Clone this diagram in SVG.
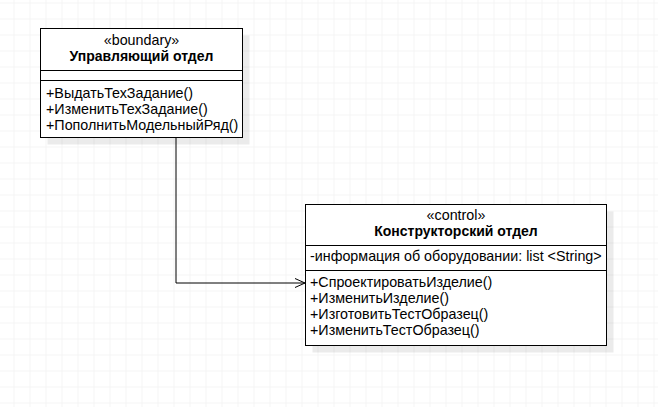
<svg xmlns="http://www.w3.org/2000/svg" width="658" height="407" viewBox="0 0 658 407">
<style>
.box{fill:#fff;stroke:#000;stroke-width:1}
.shadow{fill:#000;opacity:0.08}
.sep{stroke:#000;stroke-width:1;fill:none}
text{font-family:"Liberation Sans",Arial,sans-serif;font-size:14.3px;fill:#000}
.c{text-anchor:middle}
.b{font-weight:bold;font-size:14px}
.conn{fill:none;stroke:#000;stroke-width:1}
</style>
<defs>
<pattern id="grid" x="13.5" y="2.5" width="16" height="16" patternUnits="userSpaceOnUse">
<path d="M0 0H16M0 0V16" fill="none" stroke="#ebebeb" stroke-width="1"/>
</pattern>
<marker id="open" viewBox="0 0 12 12" refX="11" refY="6" markerWidth="12" markerHeight="12" markerUnits="userSpaceOnUse" orient="auto">
<path d="M1 1.5L11 6L1 10.5" fill="none" stroke="#000" stroke-width="1"/>
</marker>
</defs>
<rect width="658" height="407" fill="#fff"/>
<rect width="658" height="407" fill="url(#grid)"/>
<g id="connectors">
<path class="conn" d="M176 138V283H305" marker-end="url(#open)"/>
</g>
<g id="node-boundary">
<rect class="shadow" x="47.5" y="35.5" width="202" height="109"/>
<rect class="box" x="40.5" y="28.5" width="202" height="109"/>
<path class="sep" d="M40.5 70.5H242.5M40.5 80.5H242.5"/>
<text class="c" x="141.5" y="45">«boundary»</text>
<text class="c b" x="141.5" y="61">Управляющий отдел</text>
<text x="46" y="98">+ВыдатьТехЗадание()</text>
<text x="46" y="114">+ИзменитьТехЗадание()</text>
<text x="46" y="130">+ПополнитьМодельныйРяд()</text>
</g>
<g id="node-control">
<rect class="shadow" x="312.5" y="211.5" width="301" height="141"/>
<rect class="box" x="305.5" y="204.5" width="301" height="141"/>
<path class="sep" d="M305.5 245.5H606.5M305.5 270.5H606.5"/>
<text class="c" x="456" y="220">«control»</text>
<text class="c b" x="456" y="236">Конструкторский отдел</text>
<text x="310" y="261">-информация об оборудовании: list &lt;String&gt;</text>
<text x="310" y="287">+СпроектироватьИзделие()</text>
<text x="310" y="303">+ИзменитьИзделие()</text>
<text x="310" y="319">+ИзготовитьТестОбразец()</text>
<text x="310" y="335">+ИзменитьТестОбразец()</text>
</g>
</svg>
